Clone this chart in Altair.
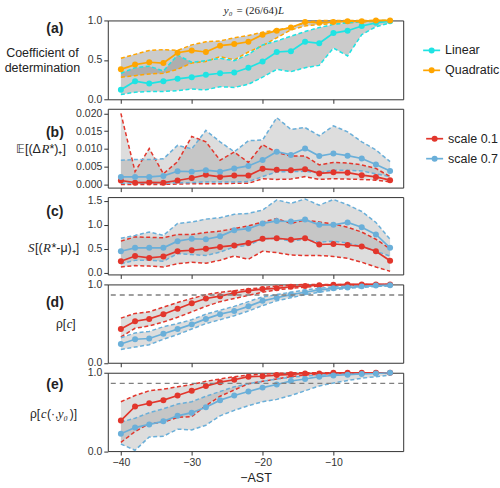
import altair as alt
import pandas as pd

# ---------------------------------------------------------------- data
X_VALUES = list(range(-40, 0, 2))

# (a) coefficient of determination: median and band limits
LIN_MED = [0.12, 0.23, 0.20, 0.23, 0.26, 0.28, 0.31, 0.33, 0.34, 0.40, 0.48, 0.60, 0.61, 0.73, 0.71, 0.84, 0.87, 0.93, 0.97, 0.99]
LIN_LO = [0.06, 0.09, 0.10, 0.10, 0.11, 0.13, 0.12, 0.16, 0.15, 0.19, 0.28, 0.38, 0.35, 0.40, 0.43, 0.65, 0.55, 0.82, 0.92, 0.97]
LIN_HI = [0.33, 0.40, 0.42, 0.36, 0.56, 0.47, 0.49, 0.52, 0.49, 0.57, 0.69, 0.74, 0.80, 0.86, 0.91, 0.95, 0.97, 0.99, 1.00, 1.00]
QUAD_MED = [0.38, 0.44, 0.47, 0.46, 0.59, 0.62, 0.60, 0.68, 0.70, 0.73, 0.82, 0.87, 0.91, 0.98, 0.97, 0.98, 0.99, 0.99, 1.00, 1.00]
QUAD_LO = [0.28, 0.30, 0.32, 0.33, 0.38, 0.46, 0.48, 0.54, 0.50, 0.60, 0.68, 0.78, 0.88, 0.93, 0.95, 0.96, 0.97, 0.98, 0.99, 0.99]
QUAD_HI = [0.52, 0.57, 0.62, 0.63, 0.62, 0.69, 0.73, 0.74, 0.78, 0.81, 0.85, 0.88, 0.91, 0.97, 1.00, 1.00, 1.00, 1.00, 1.00, 1.00]

# (b) E[(dR*)+]
B_RED_MED = [0.0011, 0.0005, 0.0006, 0.0005, 0.0011, 0.0018, 0.0027, 0.0021, 0.0025, 0.0025, 0.0044, 0.0041, 0.0040, 0.0043, 0.0031, 0.0034, 0.0033, 0.0026, 0.0021, 0.0012]
B_RED_LO = [0.0000, 0.0000, 0.0000, 0.0000, 0.0001, 0.0002, 0.0002, 0.0002, 0.0003, 0.0003, 0.0016, 0.0014, 0.0015, 0.0022, 0.0014, 0.0016, 0.0015, 0.0014, 0.0012, 0.0007]
B_RED_HI = [0.0200, 0.0036, 0.0101, 0.0030, 0.0064, 0.0135, 0.0120, 0.0068, 0.0091, 0.0062, 0.0112, 0.0090, 0.0080, 0.0080, 0.0055, 0.0062, 0.0060, 0.0055, 0.0045, 0.0022]
B_BLUE_MED = [0.0021, 0.0021, 0.0021, 0.0024, 0.0037, 0.0036, 0.0040, 0.0036, 0.0045, 0.0052, 0.0069, 0.0092, 0.0083, 0.0101, 0.0080, 0.0087, 0.0081, 0.0073, 0.0056, 0.0038]
B_BLUE_LO = [0.0003, 0.0003, 0.0003, 0.0003, 0.0005, 0.0005, 0.0007, 0.0007, 0.0007, 0.0008, 0.0022, 0.0035, 0.0036, 0.0037, 0.0032, 0.0040, 0.0040, 0.0038, 0.0030, 0.0022]
B_BLUE_HI = [0.0068, 0.0070, 0.0070, 0.0072, 0.0110, 0.0100, 0.0152, 0.0120, 0.0092, 0.0123, 0.0125, 0.0188, 0.0155, 0.0160, 0.0137, 0.0165, 0.0148, 0.0120, 0.0097, 0.0064]

# (c) S[(R*-mu)+]
C_RED_MED = [0.24, 0.35, 0.31, 0.34, 0.45, 0.47, 0.50, 0.54, 0.57, 0.62, 0.71, 0.72, 0.69, 0.72, 0.59, 0.60, 0.58, 0.55, 0.45, 0.25]
C_RED_LO = [0.12, 0.15, 0.14, 0.12, 0.19, 0.22, 0.20, 0.26, 0.35, 0.28, 0.45, 0.42, 0.37, 0.36, 0.36, 0.34, 0.30, 0.22, 0.12, 0.03]
C_RED_HI = [0.66, 0.75, 0.74, 0.73, 0.80, 0.80, 0.84, 0.87, 0.92, 0.98, 1.06, 1.13, 1.03, 1.10, 1.06, 1.02, 0.95, 0.85, 0.70, 0.50]
C_BLUE_MED = [0.45, 0.52, 0.52, 0.52, 0.66, 0.71, 0.70, 0.76, 0.89, 0.92, 1.03, 1.08, 1.07, 1.11, 1.00, 1.00, 1.05, 0.95, 0.80, 0.52]
C_BLUE_LO = [0.19, 0.26, 0.26, 0.24, 0.40, 0.38, 0.36, 0.43, 0.54, 0.57, 0.71, 0.72, 0.66, 0.70, 0.64, 0.66, 0.62, 0.55, 0.45, 0.35]
C_BLUE_HI = [0.72, 0.78, 0.85, 0.78, 1.03, 1.06, 1.12, 1.15, 1.22, 1.24, 1.31, 1.52, 1.45, 1.54, 1.41, 1.53, 1.42, 1.28, 1.05, 0.70]

# (d) rho[c]
D_RED_MED = [0.43, 0.53, 0.56, 0.62, 0.69, 0.76, 0.82, 0.85, 0.89, 0.92, 0.94, 0.95, 0.97, 0.98, 0.99, 0.995, 1.0, 1.0, 1.0, 1.0]
D_RED_LO = [0.33, 0.44, 0.47, 0.52, 0.58, 0.65, 0.72, 0.78, 0.82, 0.86, 0.90, 0.93, 0.95, 0.965, 0.98, 0.99, 0.995, 1.0, 1.0, 1.0]
D_RED_HI = [0.57, 0.63, 0.65, 0.71, 0.77, 0.82, 0.87, 0.90, 0.92, 0.94, 0.96, 0.98, 0.99, 1.0, 1.0, 1.0, 1.0, 1.0, 1.0, 1.0]
D_BLUE_MED = [0.24, 0.30, 0.31, 0.37, 0.43, 0.49, 0.56, 0.62, 0.66, 0.72, 0.79, 0.83, 0.87, 0.90, 0.93, 0.95, 0.96, 0.975, 0.985, 0.99]
D_BLUE_LO = [0.17, 0.20, 0.23, 0.30, 0.36, 0.43, 0.50, 0.55, 0.60, 0.66, 0.73, 0.79, 0.83, 0.87, 0.90, 0.93, 0.95, 0.96, 0.975, 0.98]
D_BLUE_HI = [0.32, 0.38, 0.40, 0.46, 0.50, 0.55, 0.62, 0.67, 0.72, 0.78, 0.84, 0.87, 0.90, 0.93, 0.95, 0.97, 0.98, 0.99, 0.995, 1.0]

# (e) rho[c(., y0)]
E_RED_MED = [0.39, 0.57, 0.61, 0.65, 0.71, 0.77, 0.83, 0.88, 0.91, 0.95, 0.955, 0.97, 0.98, 0.99, 0.99, 1.0, 1.0, 1.0, 1.0, 1.0]
E_RED_LO = [0.11, 0.25, 0.35, 0.37, 0.43, 0.44, 0.58, 0.70, 0.78, 0.86, 0.89, 0.92, 0.95, 0.97, 0.98, 0.99, 0.99, 1.0, 1.0, 1.0]
E_RED_HI = [0.63, 0.71, 0.77, 0.79, 0.82, 0.85, 0.89, 0.92, 0.95, 0.97, 0.98, 0.99, 1.0, 1.0, 1.0, 1.0, 1.0, 1.0, 1.0, 1.0]
E_BLUE_MED = [0.22, 0.30, 0.34, 0.38, 0.45, 0.49, 0.56, 0.65, 0.71, 0.76, 0.81, 0.85, 0.895, 0.92, 0.95, 0.965, 0.975, 0.985, 0.99, 1.0]
E_BLUE_LO = [0.09, 0.01, 0.18, 0.19, 0.28, 0.27, 0.33, 0.45, 0.52, 0.58, 0.63, 0.66, 0.71, 0.77, 0.83, 0.87, 0.90, 0.93, 0.95, 0.97]
E_BLUE_HI = [0.37, 0.42, 0.49, 0.54, 0.60, 0.63, 0.70, 0.76, 0.82, 0.86, 0.89, 0.92, 0.94, 0.96, 0.97, 0.98, 0.99, 1.0, 1.0, 1.0]

THRESHOLD = 0.865
X_TICKS = [-40, -30, -20, -10]

FIT_SERIES = ["Linear", "Quadratic"]
SCALE_SERIES = ["scale 0.1", "scale 0.7"]

# ---------------------------------------------------------------- style
COLORS = {
    "Linear": "#1fe3e3",
    "Quadratic": "#ffa500",
    "scale 0.1": "#e2362c",
    "scale 0.7": "#6aafd9",
}
FONT = "Liberation Sans"
SERIF = "Liberation Serif"
TEXT_COLOR = "#222222"
WIDTH = 296
X_DOMAIN = [-41.85, -0.15]


def long_table(series_names, groups):
    rows = []
    for name, (med, lo, hi) in zip(series_names, groups):
        for x, m, l, h in zip(X_VALUES, med, lo, hi):
            rows.append({"x": x, "series": name, "med": m, "lo": l, "hi": h})
    return pd.DataFrame(rows)


def label(text, x, y, size=12, align="left", font=FONT, style="normal", weight="normal"):
    return alt.Chart(pd.DataFrame({"t": [text]})).mark_text(
        align=align, baseline="middle", font=font, fontSize=size,
        fontStyle=style, fontWeight=weight, color=TEXT_COLOR,
    ).encode(text="t:N", x=alt.value(x), y=alt.value(y))


def panel(df, series, height, y_domain, y_ticks, y_format=None, y_label_expr=None,
          fill="#999999", fill_opacity=0.33, last=False, extras=()):
    x_axis_kw = dict(values=X_TICKS, labels=last, grid=False, domain=False,
                     tickSize=4, tickColor="#333333", labelFontSize=10.5,
                     labelColor="#333333", labelPadding=2, labelFont=FONT)
    if last:
        x_axis_kw.update(title="−AST", titleFontSize=12.5, titleFont=FONT,
                         titleFontWeight="normal", titleColor=TEXT_COLOR, titlePadding=4)
    else:
        x_axis_kw.update(title="")
    x = alt.X("x:Q", scale=alt.Scale(domain=X_DOMAIN, nice=False, zero=False),
              axis=alt.Axis(**x_axis_kw))

    y_axis_kw = dict(values=y_ticks, title="", grid=False, domain=False, tickSize=4,
                     tickColor="#333333", labelFontSize=10.5, labelColor="#333333",
                     labelPadding=2, labelFlush=False, labelFont=FONT)
    if y_format:
        y_axis_kw["format"] = y_format
    if y_label_expr:
        y_axis_kw["labelExpr"] = y_label_expr
    y_scale = alt.Scale(domain=y_domain, nice=False, zero=False)

    def Y(field):
        return alt.Y(field, scale=y_scale, axis=alt.Axis(**y_axis_kw))

    color = alt.Color("series:N", legend=None,
                      scale=alt.Scale(domain=series, range=[COLORS[s] for s in series]))

    base = alt.Chart(df).encode(x=x)
    band = base.mark_area(color=fill, opacity=fill_opacity).encode(
        y=Y("lo:Q"), y2="hi:Q", detail="series:N")
    lo_line = base.mark_line(strokeDash=[4, 2.5], strokeWidth=1.5).encode(y=Y("lo:Q"), color=color)
    hi_line = base.mark_line(strokeDash=[4, 2.5], strokeWidth=1.5).encode(y=Y("hi:Q"), color=color)
    med_line = base.mark_line(strokeWidth=1.7).encode(y=Y("med:Q"), color=color)
    points = base.mark_circle(size=36, opacity=1).encode(y=Y("med:Q"), color=color)

    layers = [band, lo_line, hi_line, med_line, points] + list(extras)
    return alt.layer(*layers).properties(width=WIDTH, height=height)


def legend(series, x0, y0, gap=20):
    parts = []
    for i, name in enumerate(series):
        y = y0 + i * gap
        parts.append(alt.Chart(pd.DataFrame({"s": [name]})).mark_rule(
            color=COLORS[name], strokeWidth=1.7).encode(
            x=alt.value(x0), x2=alt.value(x0 + 17), y=alt.value(y)))
        parts.append(alt.Chart(pd.DataFrame({"s": [name]})).mark_circle(
            color=COLORS[name], size=36, opacity=1).encode(
            x=alt.value(x0 + 8.5), y=alt.value(y)))
        parts.append(label(name, x0 + 22, y, size=12.5))
    return parts


def threshold_rule():
    return alt.Chart(pd.DataFrame({"thr": [THRESHOLD]})).mark_rule(
        color="#808080", strokeDash=[5, 4], strokeWidth=1.3).encode(y="thr:Q")


# ---------------------------------------------------------------- panels
fit_df = long_table(FIT_SERIES, [(LIN_MED, LIN_LO, LIN_HI), (QUAD_MED, QUAD_LO, QUAD_HI)])
b_df = long_table(SCALE_SERIES, [(B_RED_MED, B_RED_LO, B_RED_HI), (B_BLUE_MED, B_BLUE_LO, B_BLUE_HI)])
c_df = long_table(SCALE_SERIES, [(C_RED_MED, C_RED_LO, C_RED_HI), (C_BLUE_MED, C_BLUE_LO, C_BLUE_HI)])
d_df = long_table(SCALE_SERIES, [(D_RED_MED, D_RED_LO, D_RED_HI), (D_BLUE_MED, D_BLUE_LO, D_BLUE_HI)])
e_df = long_table(SCALE_SERIES, [(E_RED_MED, E_RED_LO, E_RED_HI), (E_BLUE_MED, E_BLUE_LO, E_BLUE_HI)])

RHO_LABELS = "datum.value == 0 ? '0.0' : (datum.value == 1 ? '1.0' : toString(datum.value))"

anchor = alt.Chart(pd.DataFrame({"a": [0]})).mark_rule(opacity=0).encode(
    x=alt.value(-107), y=alt.value(-19), y2=alt.value(-18))

panel_a = panel(
    fit_df, FIT_SERIES, 79, [0, 1], [0, 0.5, 1.0], y_format=".1f",
    fill="#8c8c8c", fill_opacity=0.45,
    extras=[
        anchor,
        label("y₀", 125, -9, size=11, align="right", font=SERIF, style="italic"),
        label("= (26/64)", 129, -9, size=11, font=SERIF),
        label("L", 170.5, -9, size=11, font=SERIF, style="italic"),
        label("(a)", -53, 9, size=14, align="center", weight="bold"),
        label("Coefficient of", -65.5, 33, size=12.5, align="center"),
        label("determination", -65.5, 48, size=12.5, align="center"),
    ] + legend(FIT_SERIES, 316, 30),
)

panel_b = panel(
    b_df, SCALE_SERIES, 79, [-0.0009, 0.0213], [0, 0.005, 0.01, 0.015, 0.02], y_format=".3f",
    extras=[
        label("(b)", -53, 24.5, size=14, align="center", weight="bold"),
        label("𝔼[(Δ", -67, 40, size=12.5, align="right"),
        label("R", -66.5, 40, size=13, font=SERIF, style="italic"),
        label("*)₊]", -58.5, 40, size=12.5),
    ] + legend(SCALE_SERIES, 319, 30),
)

panel_c = panel(
    c_df, SCALE_SERIES, 77.5, [-0.035, 1.58], [0, 0.5, 1.0, 1.5], y_format=".1f",
    extras=[
        label("(c)", -53, 15, size=14, align="center", weight="bold"),
        label("S", -80, 51, size=13, font=SERIF, style="italic"),
        label("[(", -73, 51, size=12.5),
        label("R", -65, 51, size=13, font=SERIF, style="italic"),
        label("*-μ)₊]", -56.5, 51, size=12.5),
    ],
)

panel_d = panel(
    d_df, SCALE_SERIES, 78.5, [0, 1], [0, 0.25, 0.5, 0.75, 1.0], y_label_expr=RHO_LABELS,
    extras=[
        threshold_rule(),
        label("(d)", -53, 19, size=14, align="center", weight="bold"),
        label("ρ[", -52, 40, size=12),
        label("c", -41, 40, size=12.5, font=SERIF, style="italic"),
        label("]", -35.5, 40, size=12),
    ],
)

panel_e = panel(
    e_df, SCALE_SERIES, 78.5, [0, 1], [0, 0.25, 0.5, 0.75, 1.0], y_label_expr=RHO_LABELS,
    last=True,
    extras=[
        threshold_rule(),
        label("(e)", -53, 12.5, size=14, align="center", weight="bold"),
        label("ρ[", -78, 41, size=12),
        label("c", -67, 41, size=12.5, font=SERIF, style="italic"),
        label("(·,", -61, 41, size=12),
        label("y₀", -50, 41, size=12.5, font=SERIF, style="italic"),
        label(")]", -38, 41, size=12),
    ],
)

chart = alt.vconcat(
    panel_a, panel_b, panel_c, panel_d, panel_e, spacing=9.5, bounds="flush"
).resolve_scale(
    color="independent"
).properties(
    padding=0, background="white"
).configure(
    font=FONT
).configure_view(
    stroke="#333333", strokeWidth=1
)

chart.save("out.html", embed_options={"renderer": "svg", "actions": False})
